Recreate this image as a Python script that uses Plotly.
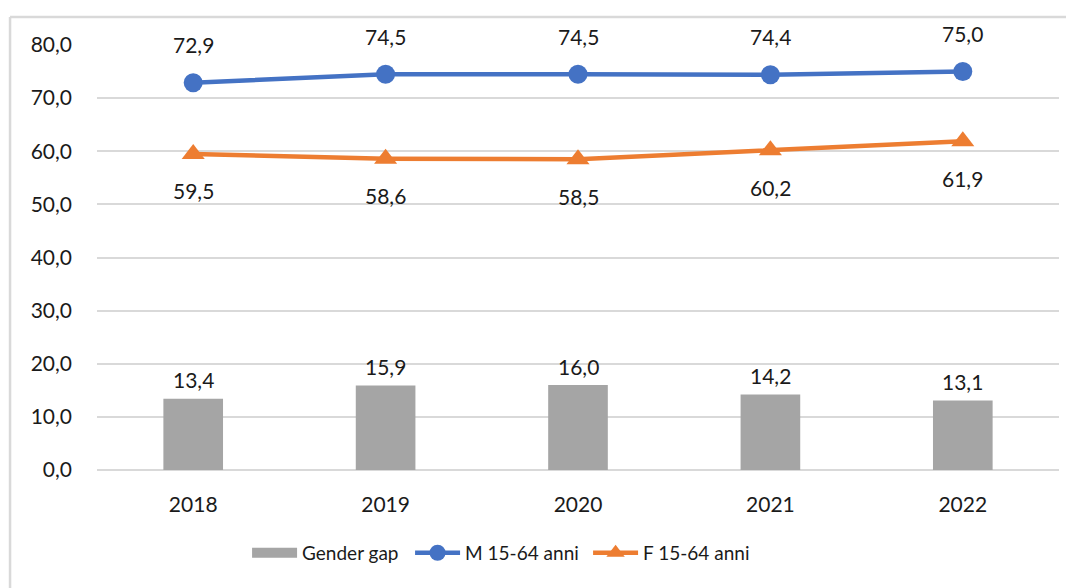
import plotly.graph_objects as go

years = ["2018", "2019", "2020", "2021", "2022"]
gender_gap = [13.4, 15.9, 16.0, 14.2, 13.1]
m_15_64 = [72.9, 74.5, 74.5, 74.4, 75.0]
f_15_64 = [59.5, 58.6, 58.5, 60.2, 61.9]
y_ticks = [0, 10, 20, 30, 40, 50, 60, 70, 80]

FONT = "Lato"
FS = 21
LFS = 19
TXT = "#1a1a1a"
GRAY = "#A5A5A5"

def fmt(v):
    return f"{v:.1f}".replace(".", ",")

fig = go.Figure()
fig.add_trace(go.Bar(x=years, y=gender_gap, name="Gender gap",
                     marker=dict(color=GRAY, line=dict(width=0)),
                     width=0.31, showlegend=False))
# legend-only entry for the bar series (wide rectangle swatch)
fig.add_trace(go.Scatter(x=[None], y=[None], name="Gender gap", mode="lines",
                         line=dict(color=GRAY, width=12), showlegend=True,
                         legendwidth=103))
fig.add_trace(go.Scatter(x=years, y=m_15_64, name="M 15-64 anni", mode="lines+markers",
                         line=dict(color="#4472C4", width=4.5),
                         marker=dict(symbol="circle", size=19, color="#4472C4"),
                         cliponaxis=False, legendwidth=118))
fig.add_trace(go.Scatter(x=years, y=f_15_64, name="F 15-64 anni", mode="lines+markers",
                         line=dict(color="#ED7D31", width=4.5),
                         marker=dict(symbol="triangle-up", size=20, color="#ED7D31"),
                         cliponaxis=False, legendwidth=105))

# annotations on a category axis: use category index (numeric-looking strings
# would be read as indices)
ann = []
for i, v in enumerate(gender_gap):
    ann.append(dict(x=i, y=v, text=fmt(v), showarrow=False, yshift=19))
for i, v in enumerate(m_15_64):
    ann.append(dict(x=i, y=v, text=fmt(v), showarrow=False, yshift=38))
for i, v in enumerate(f_15_64):
    ann.append(dict(x=i, y=v, text=fmt(v), showarrow=False, yshift=-37))
for a in ann:
    a.update(font=dict(family=FONT, size=FS, color=TXT), xref="x", yref="y")

# page body has an 8px margin; margins below compensate for it
fig.update_layout(
    width=1074, height=588,
    margin=dict(l=89, r=23, t=37, b=126),
    paper_bgcolor="white", plot_bgcolor="white",
    font=dict(family=FONT, size=FS, color=TXT),
    annotations=ann,
    showlegend=True,
    legend=dict(orientation="h", x=0.156, xanchor="left", y=-0.195, yanchor="middle",
                font=dict(family=FONT, size=LFS, color=TXT), itemwidth=45,
                traceorder="normal"),
    shapes=[
        dict(type="line", xref="paper", yref="paper", x0=-0.0904, x1=1.03, y0=1.066, y1=1.066,
             line=dict(color="#D9D9D9", width=2.5)),
        dict(type="line", xref="paper", yref="paper", x0=-0.0904, x1=-0.0904, y0=1.066, y1=-0.3,
             line=dict(color="#D9D9D9", width=2.5)),
    ],
)
fig.update_xaxes(type="category", categoryorder="array", categoryarray=years,
                 range=[-0.5, len(years) - 0.5],
                 showgrid=False, showline=False, ticks="", ticklabelstandoff=20,
                 tickfont=dict(family=FONT, size=FS, color=TXT))
fig.update_yaxes(range=[0, 80], tickvals=y_ticks, ticktext=[fmt(t) for t in y_ticks],
                 showgrid=True, gridcolor="#D9D9D9", gridwidth=2,
                 zeroline=True, zerolinecolor="#D9D9D9", zerolinewidth=2,
                 showline=False, ticks="", ticklabelstandoff=24,
                 tickfont=dict(family=FONT, size=FS, color=TXT))

fig.write_html("out.html")
